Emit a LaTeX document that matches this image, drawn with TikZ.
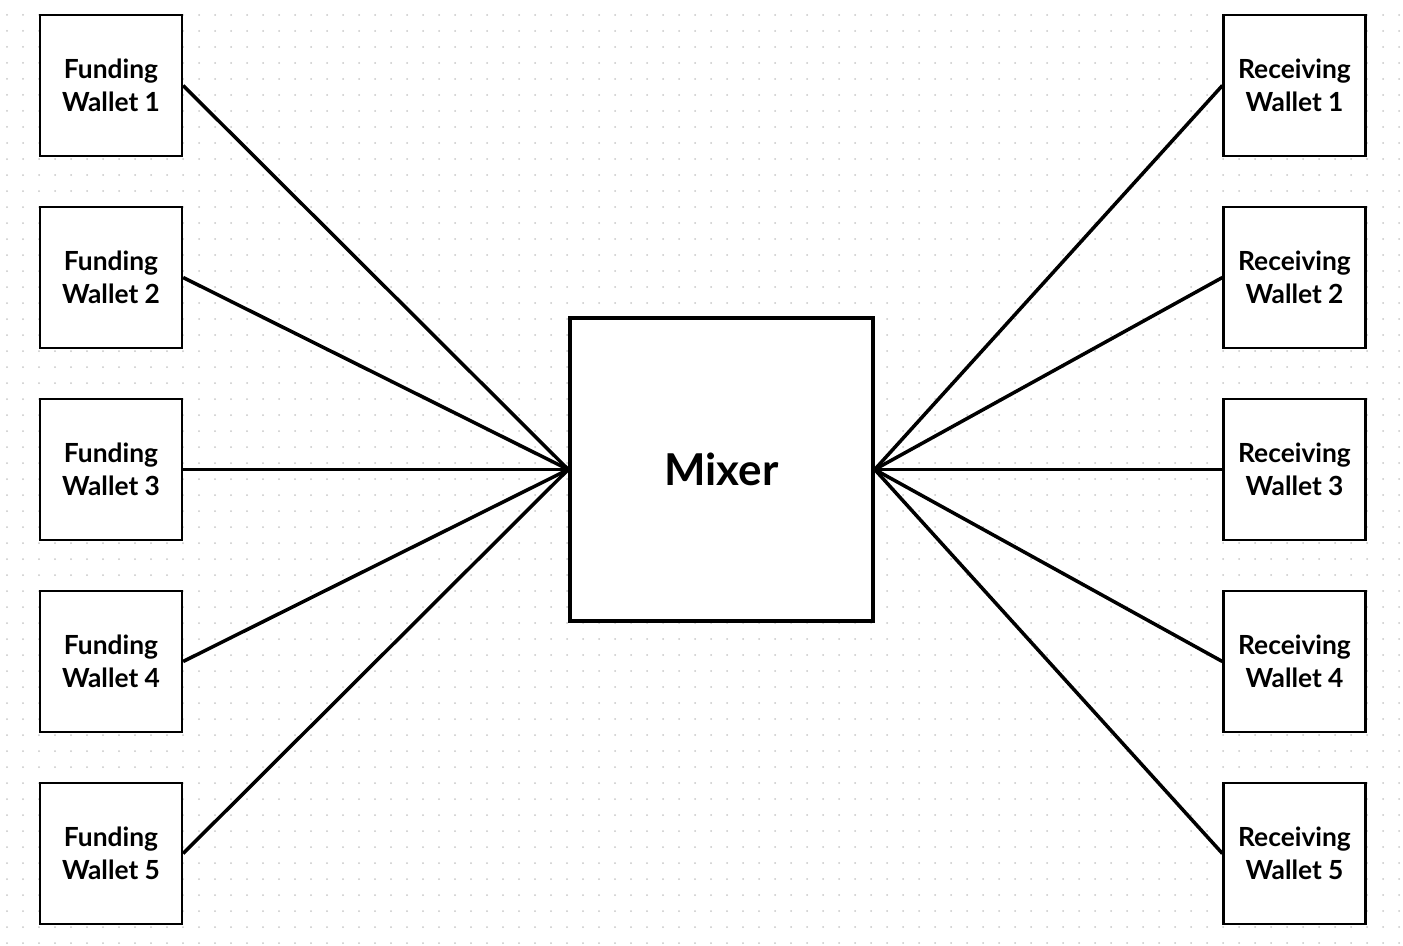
\documentclass[tikz,border=0pt]{standalone}
\usepackage{fontspec}
\setmainfont{Lato}
\usepackage{tikz}
\usetikzlibrary{positioning}

\tikzset{
    wallet/.style={draw, line width=1.3pt, minimum width=2.84cm, minimum height=2.82cm,
        align=center, font=\fontsize{15}{19}\selectfont\bfseries, inner sep=0pt},
    mixbox/.style={draw, line width=2pt, minimum width=6.06cm, minimum height=6.06cm,
        font=\fontsize{25}{29}\selectfont\bfseries},
    link/.style={line width=2pt}
}

\begin{document}
\begin{tikzpicture}[x=0.02cm, y=-0.02cm]

    \useasboundingbox (0,0) rectangle (1403,946);
    % Punktraster im Hintergrund
    \foreach \i in {0,...,87} {
        \foreach \j in {0,...,58} {
            \fill[black!22] (7+16*\i, 15+16*\j) circle (1);
        }
    }
    % Mixer in der Mitte
    \node[mixbox, fill=white] (mixer) at (721.5,469.5) {Mixer};
    % Wallets links und rechts
    \foreach \k in {1,...,5} {
        \node[wallet, fill=white] (fund\k) at (111, {85.5+192*(\k-1)}) {Funding\\Wallet \k};
        \node[wallet, fill=white] (recv\k) at (1294.5, {85.5+192*(\k-1)}) {Receiving\\Wallet \k};
        \draw[link] (fund\k.east) -- (mixer.west);
        \draw[link] (mixer.east) -- (recv\k.west);
    }

\end{tikzpicture}
\end{document}
